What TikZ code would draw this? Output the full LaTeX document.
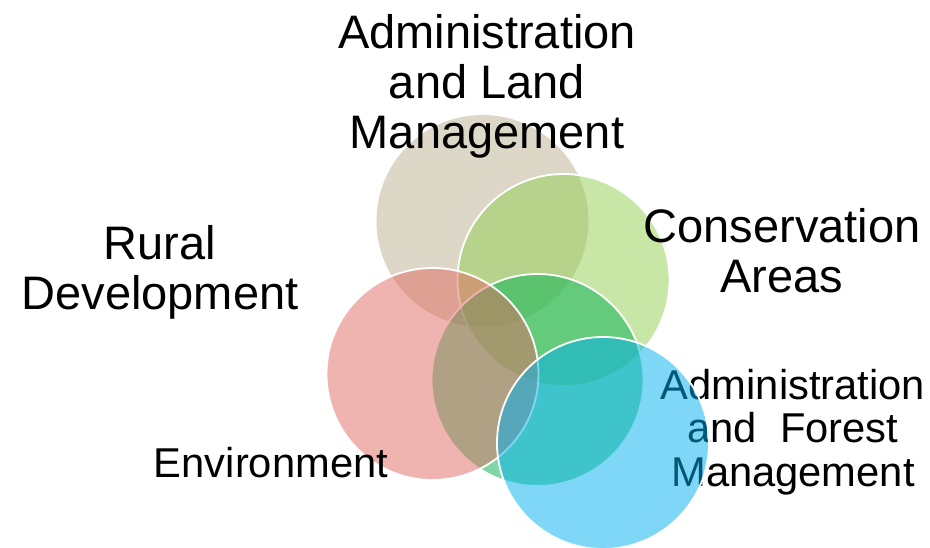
\documentclass[tikz,border=0pt]{standalone}
\usepackage{fontspec}
\setmainfont{Liberation Sans}
\usetikzlibrary{positioning}
\definecolor{landTan}{RGB}{187, 175, 145}
\definecolor{conserveGreen}{RGB}{146, 208, 80}
\definecolor{ruralPink}{RGB}{226, 106, 98}
\definecolor{envGreen}{RGB}{0, 176, 80}
\definecolor{forestBlue}{RGB}{0, 176, 240}
\tikzset{
    % Base Circle Style
    vennCircle/.style={
        circle,
        inner sep=0pt,
        minimum size=212pt,
        fill opacity=0.5,
        draw=white,
        line width=1.8pt
    },
    % Specific Circle Styles
    circLand/.style={vennCircle, fill=landTan, draw=none},
    circConserve/.style={vennCircle, fill=conserveGreen},
    circRural/.style={vennCircle, fill=ruralPink},
    circEnv/.style={vennCircle, fill=envGreen},
    circForest/.style={vennCircle, fill=forestBlue},
    % Label Styles
    bigLabel/.style={align=center, inner sep=0pt, font=\fontsize{47}{50}\selectfont},
    smallLabel/.style={align=center, inner sep=0pt, font=\fontsize{41.7}{43.5}\selectfont}
}

\begin{document}
\begin{tikzpicture}[x=1pt, y=-1pt]

    \useasboundingbox (0,0) rectangle (930,548);

    % --- CIRCLES (back to front) ---
    \node (land) [circLand] at (482.5,221) {};
    \node (conserve) [circConserve] at (563.5,280) {};
    \node (env) [circEnv] at (537.5,380) {};
    \node (rural) [circRural] at (432.5,374) {};

    % forest label sits under the blue circle
    \node (forestText) [smallLabel] at (793,432) {Administration\\and~ Forest\\Management};

    \node (forest) [circForest] at (603,443) {};

    % --- LABELS ---
    \node (landText) [bigLabel] at (487,86) {Administration\\and Land\\Management};
    \node (ruralText) [bigLabel] at (160,272) {Rural\\Development};
    \node (conserveText) [bigLabel] at (782,251) {Conservation\\Areas};
    \node (envText) [smallLabel] at (271,463) {Environment};

\end{tikzpicture}
\end{document}
